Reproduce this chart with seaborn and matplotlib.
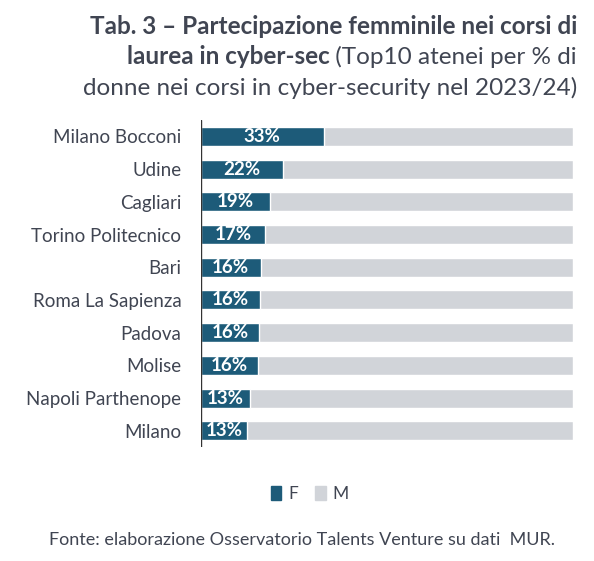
import matplotlib
matplotlib.use("Agg")
import matplotlib.pyplot as plt
import seaborn as sns
import pandas as pd
from matplotlib.patches import Patch

atenei = ['Milano Bocconi', 'Udine', 'Cagliari', 'Torino Politecnico', 'Bari',
          'Roma La Sapienza', 'Padova', 'Molise', 'Napoli Parthenope', 'Milano']
donne = [33.0, 22.0, 18.6, 17.2, 16.1, 15.8, 15.6, 15.3, 13.2, 12.4]
etichette = ['33%', '22%', '19%', '17%', '16%', '16%', '16%', '16%', '13%', '13%']

colF = '#1d5b79'
colM = '#d1d4d9'
txt = '#404552'

sns.set_style('white')
plt.rcParams['font.family'] = ['Lato', 'DejaVu Sans']

df = pd.DataFrame({'Ateneo': atenei, 'F': donne})
df['Tot'] = 100

fig = plt.figure(figsize=(5.94, 5.61), dpi=100)
ax = fig.add_axes([0.338, 0.203, 0.627, 0.583])
sns.barplot(data=df, x='Tot', y='Ateneo', color=colM, width=0.58, ax=ax, saturation=1)
sns.barplot(data=df, x='F', y='Ateneo', color=colF, width=0.58, ax=ax, saturation=1)
for i, lab in enumerate(etichette):
    ax.text(donne[i] / 2, i, lab, ha='center', va='center', color='white',
            fontsize=13.5, fontweight='bold')
ax.set_xlim(0, 100)
ax.set_xlabel('')
ax.set_ylabel('')
ax.set_xticks([])
ax.tick_params(axis='y', length=0, labelsize=13.5, labelcolor=txt, pad=14)
sns.despine(ax=ax, left=True, bottom=True)
ax.axvline(0, color='#333333', lw=1)

# title, right aligned, mixed weights
fig.canvas.draw()
r = fig.canvas.get_renderer()
xr = 577 / 594
fig.text(xr, 1 - 27 / 561, 'Tab. 3 – Partecipazione femminile nei corsi di', ha='right',
         va='center', fontsize=17.5, fontweight='bold', color=txt)
t2 = fig.text(xr, 1 - 57 / 561, ' (Top10 atenei per % di', ha='right', va='center',
              fontsize=17.5, color=txt)
w = t2.get_window_extent(r).width / fig.bbox.width
fig.text(xr - w, 1 - 57 / 561, 'laurea in cyber-sec', ha='right', va='center',
         fontsize=17.5, fontweight='bold', color=txt)
fig.text(xr, 1 - 88 / 561, 'donne nei corsi in cyber-security nel 2023/24)', ha='right',
         va='center', fontsize=17.5, color=txt)

fig.legend(handles=[Patch(color=colF, label='F'), Patch(color=colM, label='M')],
           loc='center', bbox_to_anchor=(310 / 594, 1 - 494 / 561), ncol=2, frameon=False,
           fontsize=12.5, handlelength=0.6, handleheight=0.9, columnspacing=1.0,
           handletextpad=0.4, labelcolor=txt)
fig.text(302 / 594, 1 - 540 / 561, 'Fonte: elaborazione Osservatorio Talents Venture su dati  MUR.',
         ha='center', va='center', fontsize=13, color=txt)

fig.savefig('out.png', dpi=100)
